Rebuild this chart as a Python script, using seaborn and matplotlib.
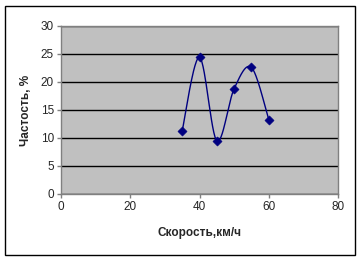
import numpy as np
import pandas as pd
import matplotlib
matplotlib.use("Agg")
import matplotlib.pyplot as plt
import seaborn as sns
from matplotlib.patches import Rectangle

speed = [35, 40, 45, 50, 55, 60]
freq = [11.3, 24.4, 9.5, 18.8, 22.6, 13.3]
x_ticks = [0, 20, 40, 60, 80]
y_ticks = [0, 5, 10, 15, 20, 25, 30]
x_label = "Скорость,км/ч"
y_label = "Частость, %"

sns.set_theme(style="white")
plt.rcParams['font.family'] = ['Liberation Sans', 'DejaVu Sans']

fig = plt.figure(figsize=(3.61, 2.61), dpi=100)
ax = fig.add_axes([61/361, 1-194/261, (338-61)/361, (194-26)/261])
ax.set_facecolor("#C0C0C0")

# Excel-like smoothed curve (Catmull-Rom Bezier)
px = np.array(speed, float)
py = np.array(freq, float)
n = len(px)
cx, cy = [], []
t = np.linspace(0, 1, 30)
for i in range(n - 1):
    p0 = np.array([px[max(i-1, 0)], py[max(i-1, 0)]])
    p1 = np.array([px[i], py[i]])
    p2 = np.array([px[i+1], py[i+1]])
    p3 = np.array([px[min(i+2, n-1)], py[min(i+2, n-1)]])
    c1 = p1 + (p2 - p0) / 6
    c2 = p2 - (p3 - p1) / 6
    pts = ((1-t)**3)[:, None]*p1 + (3*(1-t)**2*t)[:, None]*c1 + (3*(1-t)*t**2)[:, None]*c2 + (t**3)[:, None]*p2
    cx.extend(pts[:, 0]); cy.extend(pts[:, 1])
ax.plot(cx, cy, color="#000080", lw=1.0, zorder=3)

df = pd.DataFrame({"x": speed, "y": freq})
sns.scatterplot(data=df, x="x", y="y", ax=ax, marker="D", s=22, color="#000080",
                edgecolor="#000080", zorder=4, legend=False)

ax.set_xlim(0, 80)
ax.set_ylim(0, 30)
ax.set_xticks(x_ticks)
ax.set_yticks(y_ticks)
ax.yaxis.grid(True, color="black", lw=1)
ax.xaxis.grid(False)
ax.set_axisbelow(True)
for s in ["top", "right"]:
    ax.spines[s].set_color("#808080")
    ax.spines[s].set_linewidth(1)
for s in ["left", "bottom"]:
    ax.spines[s].set_color("#808080")
    ax.spines[s].set_linewidth(1)
ax.tick_params(axis="both", which="both", length=3, width=1, color="#808080",
               labelsize=8.5, direction="out", bottom=True, left=True, pad=2)
ax.set_xlabel(x_label, fontsize=8.5, fontweight="bold", labelpad=10)
ax.set_ylabel(y_label, fontsize=8.5, fontweight="bold", labelpad=6)

fig.patches.append(Rectangle((5/361, 6/261), 350/361, 249/261, transform=fig.transFigure,
                             fill=False, edgecolor="black", lw=1))
fig.savefig("out.png", dpi=100, facecolor="white")
